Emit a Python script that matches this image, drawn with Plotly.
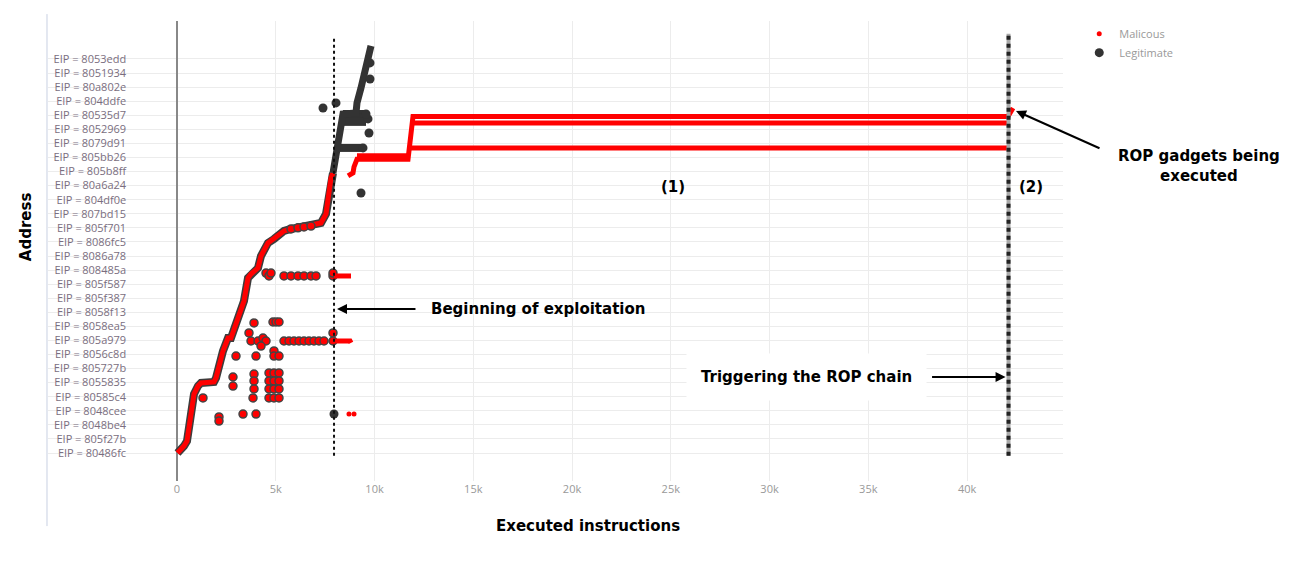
import plotly.graph_objects as go

# y axis: address rows (0 = bottom label), x axis: executed instructions
Y_TICK_TEXT = ["EIP = 80486fc", "EIP = 805f27b", "EIP = 8048be4", "EIP = 8048cee",
               "EIP = 80585c4", "EIP = 8055835", "EIP = 805727b", "EIP = 8056c8d",
               "EIP = 805a979", "EIP = 8058ea5", "EIP = 8058f13", "EIP = 805f387",
               "EIP = 805f587", "EIP = 808485a", "EIP = 8086a78", "EIP = 8086fc5",
               "EIP = 805f701", "EIP = 807bd15", "EIP = 804df0e", "EIP = 80a6a24",
               "EIP = 805b8ff", "EIP = 805bb26", "EIP = 8079d91", "EIP = 8052969",
               "EIP = 80535d7", "EIP = 804ddfe", "EIP = 80a802e", "EIP = 8051934",
               "EIP = 8053edd"]
X_TICK_VALS = [0, 5000, 10000, 15000, 20000, 25000, 30000, 35000, 40000]
X_TICK_TEXT = ["0", "5k", "10k", "15k", "20k", "25k", "30k", "35k", "40k"]

# malicious trace before exploitation (staircase)
mal_stair_x = [25, 203, 354, 506, 709, 861, 1063, 1215, 1873, 1975, 2329, 2582, 2734,
               3088, 3392, 3595, 3747, 4101, 4253, 4607, 4911, 5417, 5772, 6936, 7291,
               7544, 7797, 7898]
mal_stair_y = [0.0, 0.21, 0.50, 0.85, 2.99, 4.19, 4.76, 4.98, 5.05, 5.33, 7.25, 8.17,
               8.17, 9.59, 10.80, 12.44, 12.72, 13.15, 14.00, 14.93, 15.21, 15.78, 15.92,
               16.20, 16.35, 16.99, 19.55, 19.90]

# scattered malicious hits before exploitation
mal_dots_x = [4506, 4658, 4759, 5417, 5772, 6126, 6430, 6784, 7038, 7898, 7898,
              3899, 4860, 5012, 5164, 3645, 7898,
              3747, 4101, 4354, 4506, 5417, 5671, 5924, 6177, 6430, 6683, 6936, 7189,
              7443, 7898, 4253, 4911, 4911, 5164, 2987, 4000,
              2835, 2835, 3899, 3899, 3899, 4658, 4658, 4658, 4911, 4911, 4911, 5164,
              5164, 5164, 1316, 3848, 4658, 4911, 5164, 3342, 4000, 2126, 2126,
              5772, 6126, 6430, 6784]
mal_dots_y = [12.79, 12.58, 12.79, 12.58, 12.58, 12.58, 12.58, 12.58, 12.58, 12.58,
              12.79, 9.24, 9.31, 9.31, 9.31, 8.53, 8.53,
              7.96, 7.96, 8.17, 7.96, 7.96, 7.96, 7.96, 7.96, 7.96, 7.96, 7.96, 7.96,
              7.96, 7.96, 7.60, 7.25, 6.89, 6.89, 6.89, 6.89,
              5.40, 4.76, 5.61, 5.12, 4.55, 5.69, 5.12, 4.55, 5.69, 5.12, 4.55, 5.69,
              5.12, 4.55, 3.91, 3.91, 3.91, 3.91, 3.91, 2.77, 2.77, 2.56, 2.27,
              15.92, 16.0, 16.06, 16.13]

# malicious trace after exploitation (None splits segments)
mal_late_x = [8658, 8911, 8962, 9113, 11696, 11949, 42074, 42327, None,
              9113, 11696, None,
              11949, 42074, None,
              11848, 42074, None,
              7949, 8810, None,
              8050, 8760, 8810]
mal_late_y = [19.69, 19.90, 20.33, 20.88, 20.88, 23.92, 23.92, 24.52, None,
              21.12, 21.12, None,
              23.45, 23.45, None,
              21.68, 21.68, None,
              12.58, 12.58, None,
              7.96, 7.96, 7.82]
mal_small_x = [8708, 8962]
mal_small_y = [2.77, 2.77]

# legitimate trace
leg_path_x = [7898, 8000, 8151, 8303, 8405, 9063, 9113, 9316, 9518, 9670, 9822]
leg_path_y = [19.90, 20.75, 21.96, 23.60, 24.09, 24.17, 24.88, 25.94, 27.15, 28.22, 28.93]
leg_band_x = [8405, 9570, None, 8405, 9570, None, 8405, 9570, None, 8202, 9417]
leg_band_y = [24.09, 24.09, None, 23.81, 23.81, None, 23.53, 23.53, None, 21.68, 21.68]
leg_dots_x = [7392, 8050, 9720, 9316, 7949, 9670, 9771, 9771, 9417, 9570]
leg_dots_y = [24.52, 24.88, 22.74, 18.48, 2.77, 23.74, 27.72, 26.58, 21.68, 24.09]

EXPLOIT_START = 7950
ROP_TRIGGER = 42100

RED = "#ff0000"
DARK = "#333333"

fig = go.Figure()

# staircase with dark outline
fig.add_trace(go.Scatter(x=mal_stair_x, y=mal_stair_y, mode="lines",
                         line=dict(color="#3c3c3c", width=8), showlegend=False,
                         hoverinfo="skip"))
fig.add_trace(go.Scatter(x=mal_stair_x, y=mal_stair_y, mode="lines",
                         line=dict(color=RED, width=5), showlegend=False))
fig.add_trace(go.Scatter(x=mal_dots_x, y=mal_dots_y, mode="markers",
                         marker=dict(color=RED, size=8, line=dict(color="#444", width=1.5)),
                         showlegend=False))

# legitimate
fig.add_trace(go.Scatter(x=leg_band_x, y=leg_band_y, mode="lines",
                         line=dict(color=DARK, width=8), showlegend=False))
fig.add_trace(go.Scatter(x=leg_path_x, y=leg_path_y, mode="lines",
                         line=dict(color=DARK, width=7), showlegend=False))
fig.add_trace(go.Scatter(x=leg_dots_x, y=leg_dots_y, mode="markers", name="Legitimate",
                         marker=dict(color=DARK, size=9)))

# malicious after exploitation
fig.add_trace(go.Scatter(x=mal_late_x, y=mal_late_y, mode="lines",
                         line=dict(color=RED, width=5), showlegend=False))
fig.add_trace(go.Scatter(x=mal_small_x, y=mal_small_y, mode="markers", name="Malicous",
                         marker=dict(color=RED, size=5)))

# vertical markers
fig.add_shape(type="line", x0=EXPLOIT_START, x1=EXPLOIT_START, y0=-0.2, y1=29.6,
              line=dict(color="#111", width=2, dash="dot"))
fig.add_shape(type="line", x0=ROP_TRIGGER, x1=ROP_TRIGGER, y0=-0.2, y1=29.8,
              line=dict(color="#aaa", width=4))
fig.add_shape(type="line", x0=ROP_TRIGGER, x1=ROP_TRIGGER, y0=-0.2, y1=29.8,
              line=dict(color="#222", width=4, dash="dot"))

# frame line left of the chart
fig.add_shape(type="line", xref="paper", yref="paper", x0=-0.001, x1=-0.001,
              y0=-0.098, y1=1.015, line=dict(color="#c8d0e2", width=1))

bold = dict(family="DejaVu Sans", size=15, color="black", weight="bold")

fig.add_annotation(x=EXPLOIT_START + 150, y=10.23, ax=80, ay=0, text="",
                   showarrow=True, arrowhead=2, arrowsize=1, arrowwidth=2,
                   arrowcolor="black")
fig.add_annotation(x=12760, y=10.23, text="Beginning of exploitation", showarrow=False,
                   xanchor="left", font=bold)

fig.add_annotation(x=ROP_TRIGGER - 150, y=5.4, ax=-75, ay=0, text="",
                   showarrow=True, arrowhead=2, arrowsize=1, arrowwidth=2,
                   arrowcolor="black")
fig.add_annotation(x=31846, y=5.4, text="Triggering the ROP chain", showarrow=False,
                   xanchor="center", font=bold, bgcolor="white", borderpad=14)

fig.add_annotation(x=42479, y=24.31, ax=85, ay=38, text="", showarrow=True,
                   arrowhead=2, arrowsize=1, arrowwidth=2, arrowcolor="black")
fig.add_annotation(xref="paper", yref="paper", x=1.134, y=0.685, xanchor="center",
                   yanchor="middle", text="ROP gadgets being<br>executed",
                   showarrow=False, font=bold)

fig.add_annotation(x=25112, y=18.9, text="(1)", showarrow=False, font=bold)
fig.add_annotation(x=43238, y=18.9, text="(2)", showarrow=False, font=bold)

fig.add_annotation(xref="paper", yref="paper", x=0.532, y=-0.098, xanchor="center",
                   yanchor="middle", text="Executed instructions", showarrow=False,
                   font=bold)
fig.add_annotation(xref="paper", yref="paper", x=-0.0217, y=0.554, xanchor="center",
                   yanchor="middle", textangle=-90, text="Address", showarrow=False,
                   font=bold)

fig.update_layout(
    width=1305, height=561,
    margin=dict(l=40, r=250, t=13, b=88, autoexpand=False),
    plot_bgcolor="white", paper_bgcolor="white",
    font=dict(family="Open Sans"),
    legend=dict(x=1.016, y=1.004, xanchor="left", yanchor="top", traceorder="reversed",
                font=dict(size=11, color="#999"), bgcolor="rgba(0,0,0,0)"),
    xaxis=dict(range=[-6531, 44858], tickvals=X_TICK_VALS, ticktext=X_TICK_TEXT,
               showgrid=True, gridcolor="#ececec", zeroline=True,
               zerolinecolor="#888", zerolinewidth=1.5, automargin=False,
               tickfont=dict(size=11, color="#999"), showline=False),
    yaxis=dict(range=[-1.99, 30.7], tickvals=list(range(len(Y_TICK_TEXT))),
               ticktext=Y_TICK_TEXT, anchor="free", position=0.077, automargin=False,
               showgrid=True, gridcolor="#ececec", zeroline=False,
               tickfont=dict(size=11, color="#7a6e80"), showline=False),
)

fig.write_html("out.html")
